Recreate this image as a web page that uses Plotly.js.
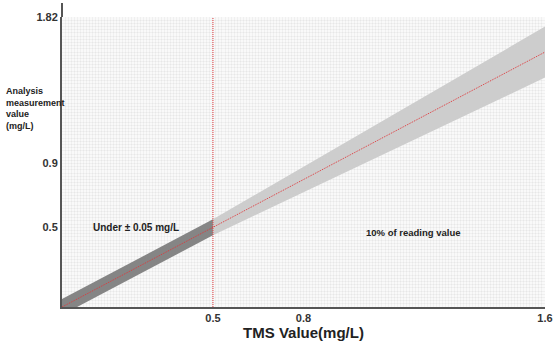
<!DOCTYPE html>
<html>
<head>
<meta charset="utf-8">
<script src="https://cdn.plot.ly/plotly-3.0.1.min.js"></script>
<style>html,body{margin:0;padding:0;background:#fff;}#chart{width:553px;height:343px;}</style>
</head>
<body>
<div id="chart"></div>
<script>
// Tick labels
const xTickVals = [0.5, 0.8, 1.6];
const yTickVals = [0.5, 0.9, 1.82];
// Reference (y = x) line
const refX = [0, 1.6];
const refY = [0, 1.6];
// Cut-off line at 0.5 mg/L
const cutX = [0.5, 0.5];
const cutY = [0, 1.82];
// Band: under ±0.05 mg/L (below 0.5)
const underX = [0, 0.5];
const underLow = [-0.05, 0.45];
const underHigh = [0.05, 0.55];
// Band: 10% of reading value (above 0.5)
const pctX = [0.5, 1.6];
const pctLow = [0.45, 1.44];
const pctHigh = [0.55, 1.76];

const font = 'Liberation Sans, Arial, sans-serif';

const traces = [
  {x: underX, y: underLow, mode: 'lines', line: {width: 0, color: '#808080'}, hoverinfo: 'skip', showlegend: false},
  {x: underX, y: underHigh, mode: 'lines', line: {width: 0, color: '#808080'}, fill: 'tonexty', fillcolor: '#858585', hoverinfo: 'skip', showlegend: false},
  {x: pctX, y: pctLow, mode: 'lines', line: {width: 0, color: '#cccccc'}, hoverinfo: 'skip', showlegend: false},
  {x: pctX, y: pctHigh, mode: 'lines', line: {width: 0, color: '#cccccc'}, fill: 'tonexty', fillcolor: '#cdcdcd', hoverinfo: 'skip', showlegend: false},
  {x: refX, y: refY, mode: 'lines', line: {color: '#e0383b', width: 1, dash: '1px,1px'}, showlegend: false},
  {x: cutX, y: cutY, mode: 'lines', line: {color: '#e0383b', width: 1, dash: '1px,1px'}, showlegend: false}
];

const layout = {
  width: 553, height: 343,
  margin: {l: 62, r: 8, t: 17, b: 36},
  paper_bgcolor: '#ffffff',
  plot_bgcolor: '#f9f9f9',
  showlegend: false,
  xaxis: {
    range: [0, 1.6], tickmode: 'array', tickvals: xTickVals, ticktext: xTickVals.map(String),
    showgrid: false, zeroline: false, showline: true, linecolor: '#555555', linewidth: 2,
    ticks: '', ticklen: 0,
    tickfont: {family: font, size: 11, color: '#333333', weight: 'bold'},
    minor: {tickmode: 'linear', tick0: 0, dtick: 0.01, showgrid: true, gridcolor: 'rgba(0,0,0,0.035)', gridwidth: 1, ticks: ''},
    title: {text: 'TMS Value(mg/L)', font: {family: font, size: 15, color: '#222222', weight: 'bold'}, standoff: 4}
  },
  yaxis: {
    range: [0, 1.82], tickmode: 'array', tickvals: yTickVals, ticktext: yTickVals.map(String),
    showgrid: false, zeroline: false, showline: true, linecolor: '#555555', linewidth: 2,
    ticks: '', ticklen: 0,
    tickfont: {family: font, size: 11, color: '#333333', weight: 'bold'},
    minor: {tickmode: 'linear', tick0: 0, dtick: 0.02, showgrid: true, gridcolor: 'rgba(0,0,0,0.035)', gridwidth: 1, ticks: ''}
  },
  shapes: [
    {type: 'line', xref: 'paper', yref: 'paper', x0: 0, x1: 0, y0: 1, y1: 1.048, line: {color: '#555555', width: 2}}
  ],
  annotations: [
    {xref: 'paper', yref: 'paper', x: -0.12, y: 0.686, xanchor: 'left', yanchor: 'middle', align: 'left', showarrow: false,
     text: 'Analysis<br>measurement<br>value<br>(mg/L)', font: {family: font, size: 9, color: '#222222', weight: 'bold'}},
    {xref: 'x', yref: 'y', x: 0.095, y: 0.5, xanchor: 'left', yanchor: 'middle', showarrow: false,
     text: 'Under \u00b1 0.05 mg/L', font: {family: font, size: 10, color: '#222222', weight: 'bold'}},
    {xref: 'x', yref: 'y', x: 1.0, y: 0.47, xanchor: 'left', yanchor: 'middle', showarrow: false,
     text: '10% of reading value', font: {family: font, size: 9.5, color: '#222222', weight: 'bold'}}
  ]
};

Plotly.newPlot('chart', traces, layout, {displayModeBar: false, staticPlot: true});
</script>
</body>
</html>
